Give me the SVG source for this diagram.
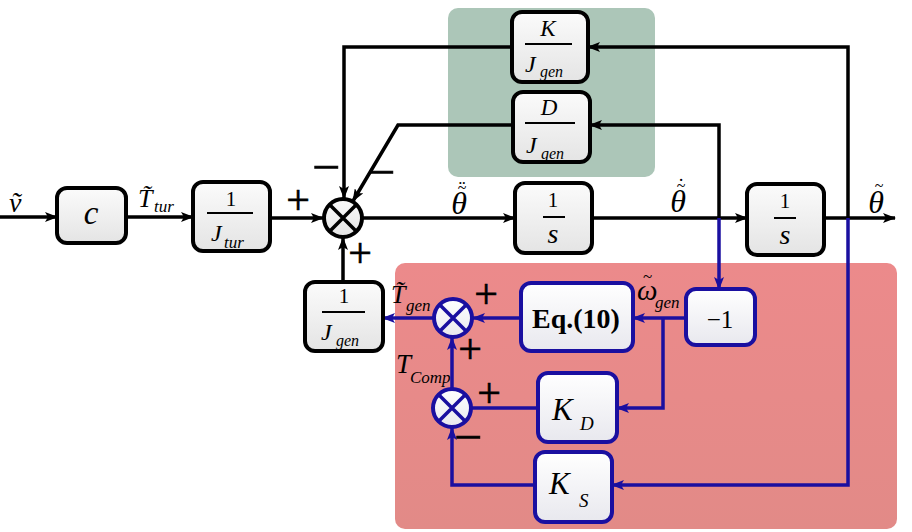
<svg xmlns="http://www.w3.org/2000/svg" width="912" height="532" viewBox="0 0 912 532">
<style>
.blk{fill:url(#gb);stroke:#000;stroke-width:4}
.bblk{fill:url(#gw);stroke:#1a0fa0;stroke-width:4}
.w{stroke:#000;stroke-width:3.5;fill:none}
.bw{stroke:#1a0fa0;stroke-width:3.5;fill:none}
.fl{stroke:#000;stroke-width:2}
.t{font-family:"Liberation Serif","Times New Roman",serif;fill:#000}
.i{font-style:italic}
.b{font-weight:bold}
.m{text-anchor:middle}
.pm{font-family:"Liberation Serif","Times New Roman",serif;fill:#000;stroke:#000;stroke-width:0.6;text-anchor:middle}
</style>
<defs>
<linearGradient id="gb" x1="0" y1="0" x2="0" y2="1"><stop offset="0" stop-color="#fbfbfb"/><stop offset="1" stop-color="#e4e4e4"/></linearGradient>
<linearGradient id="gw" x1="0" y1="0" x2="0" y2="1"><stop offset="0" stop-color="#ffffff"/><stop offset="1" stop-color="#e8e8ee"/></linearGradient>
<linearGradient id="gr" x1="0" y1="0" x2="0" y2="1"><stop offset="0" stop-color="#ec8a8b"/><stop offset="1" stop-color="#e28a87"/></linearGradient>
<marker id="ak" markerWidth="13" markerHeight="10" refX="12" refY="5" orient="auto" markerUnits="userSpaceOnUse"><path d="M0,0 L13,5 L0,10 L3,5 z" fill="#000"/></marker>
<marker id="ab" markerWidth="13" markerHeight="10" refX="12" refY="5" orient="auto" markerUnits="userSpaceOnUse"><path d="M0,0 L13,5 L0,10 L3,5 z" fill="#1a0fa0"/></marker>
</defs>
<rect width="912" height="532" fill="#fff"/>
<g id="regions">
<rect x="448" y="8" width="207" height="169" rx="10" fill="#acc6b8"/>
<rect x="395" y="263" width="502" height="266" rx="10" fill="url(#gr)"/>
</g>
<g id="connectors">
<path class="w" d="M0,217 H57" marker-end="url(#ak)"/>
<path class="w" d="M126,217 H193" marker-end="url(#ak)"/>
<path class="w" d="M270,218 H323" marker-end="url(#ak)"/>
<path class="w" d="M363,218 H515" marker-end="url(#ak)"/>
<path class="w" d="M592,218 H747" marker-end="url(#ak)"/>
<path class="w" d="M824,218 H895" marker-end="url(#ak)"/>
<path class="w" d="M512,47 H344 V198" marker-end="url(#ak)"/>
<path class="w" d="M513,125 H398 L353,201" marker-end="url(#ak)"/>
<path class="w" d="M719,218 V125 H590" marker-end="url(#ak)"/>
<path class="w" d="M848,218 V47 H588" marker-end="url(#ak)"/>
<path class="w" d="M343,282 V238" marker-end="url(#ak)"/>
<path class="bw" d="M719,218 V289" marker-end="url(#ab)"/>
<path class="bw" d="M848,218 V485 H612" marker-end="url(#ab)"/>
<path class="bw" d="M686,318 H633" marker-end="url(#ab)"/>
<path class="bw" d="M521,318 H473" marker-end="url(#ab)"/>
<path class="bw" d="M433,318 H383" marker-end="url(#ab)"/>
<path class="bw" d="M663,318 V408 H617" marker-end="url(#ab)"/>
<path class="bw" d="M538,408 H472"/>
<path class="bw" d="M535,485 H452 V428" marker-end="url(#ab)"/>
<path class="bw" d="M452,388 V338" marker-end="url(#ab)"/>
</g>
<g id="c">
<rect class="blk" x="57" y="188" width="69" height="55" rx="10"/>
<text class="t i m" x="91" y="224" font-size="33">c</text>
</g>
<g id="jtur">
<rect class="blk" x="193" y="182" width="77" height="69" rx="10"/>
<text class="t m" x="231" y="206" font-size="21">1</text>
<line class="fl" x1="207" y1="213" x2="253" y2="213"/>
<text class="t i"><tspan x="211" y="241" font-size="24">J</tspan><tspan x="224" y="248" font-size="17">tur</tspan></text>
</g>
<g id="kjgen">
<rect class="blk" x="512" y="12" width="76" height="70" rx="10"/>
<text class="t i m" x="548" y="36" font-size="23">K</text>
<line class="fl" x1="525" y1="44" x2="572" y2="44"/>
<text class="t i"><tspan x="525" y="72" font-size="24">J</tspan><tspan x="540" y="77" font-size="16">gen</tspan></text>
</g>
<g id="djgen">
<rect class="blk" x="513" y="92" width="77" height="70" rx="10"/>
<text class="t i m" x="549" y="115" font-size="23">D</text>
<line class="fl" x1="525" y1="123" x2="575" y2="123"/>
<text class="t i"><tspan x="526" y="153" font-size="24">J</tspan><tspan x="541" y="159" font-size="16">gen</tspan></text>
</g>
<g id="sum1">
<circle cx="343" cy="218" r="19" fill="url(#gb)" stroke="#000" stroke-width="4"/>
<path class="w" d="M329.5,204.5 L356.5,231.5 M356.5,204.5 L329.5,231.5"/>
</g>
<g id="int1">
<rect class="blk" x="515" y="183" width="77" height="70" rx="10"/>
<text class="t m" x="553" y="207" font-size="21">1</text>
<line class="fl" x1="543" y1="217" x2="565" y2="217"/>
<text class="t i m" x="553" y="243" font-size="28">s</text>
</g>
<g id="int2">
<rect class="blk" x="747" y="184" width="77" height="71" rx="10"/>
<text class="t m" x="785" y="208" font-size="21">1</text>
<line class="fl" x1="774" y1="218" x2="796" y2="218"/>
<text class="t i m" x="785" y="244" font-size="28">s</text>
</g>
<g id="jgen">
<rect class="blk" x="305" y="282" width="78" height="69" rx="10"/>
<text class="t m" x="344" y="303" font-size="21">1</text>
<line class="fl" x1="322" y1="312" x2="365" y2="312"/>
<text class="t i"><tspan x="321" y="340" font-size="24">J</tspan><tspan x="336" y="346" font-size="16">gen</tspan></text>
</g>
<g id="sum2">
<circle cx="453" cy="318" r="19" fill="url(#gw)" stroke="#1a0fa0" stroke-width="4"/>
<path class="bw" d="M439.5,304.5 L466.5,331.5 M466.5,304.5 L439.5,331.5"/>
</g>
<g id="sum3">
<circle cx="452" cy="408" r="19" fill="url(#gw)" stroke="#1a0fa0" stroke-width="4"/>
<path class="bw" d="M438.5,394.5 L465.5,421.5 M465.5,394.5 L438.5,421.5"/>
</g>
<g id="eq10">
<rect class="bblk" x="521" y="283" width="112" height="68" rx="10"/>
<text class="t b m" x="576" y="328" font-size="28">Eq.(10)</text>
</g>
<g id="neg1">
<rect class="bblk" x="686" y="289" width="69" height="56" rx="10"/>
<text class="t m" x="720" y="328" font-size="25">−1</text>
</g>
<g id="kd">
<rect class="bblk" x="538" y="373" width="79" height="69" rx="10"/>
<text class="t i"><tspan x="552" y="420" font-size="31">K</tspan><tspan x="580" y="430" font-size="19">D</tspan></text>
</g>
<g id="ks">
<rect class="bblk" x="535" y="452" width="77" height="70" rx="10"/>
<text class="t i"><tspan x="549" y="494" font-size="31">K</tspan><tspan x="579" y="507" font-size="19">S</tspan></text>
</g>
<g id="labels">
<text class="t i" x="9" y="212" font-size="28">ṽ</text>
<text class="t i"><tspan x="138" y="207" font-size="26">T̃</tspan><tspan x="154" y="212" font-size="17">tur</tspan></text>
<text class="t m"><tspan class="i" x="459" y="214" font-size="32">θ</tspan><tspan x="462" y="193" font-size="16">~</tspan><tspan x="462" y="195" font-size="20">¨</tspan></text>
<text class="t m"><tspan class="i" x="678" y="212" font-size="32">θ</tspan><tspan x="681" y="191" font-size="16">~</tspan><tspan x="681" y="193" font-size="20">˙</tspan></text>
<text class="t m"><tspan class="i" x="876" y="213" font-size="32">θ</tspan><tspan x="879" y="191" font-size="16">~</tspan></text>
<text class="t i"><tspan x="391" y="303" font-size="26">T̃</tspan><tspan x="406" y="311" font-size="17">gen</tspan></text>
<text class="t i"><tspan x="396" y="373" font-size="27">T</tspan><tspan x="410" y="383" font-size="17">Comp</tspan></text>
<text class="t"><tspan class="i" x="637" y="300" font-size="29">ω</tspan><tspan x="643" y="282" font-size="17">~</tspan><tspan class="i" x="655" y="308" font-size="17">gen</tspan></text>
<text class="pm" x="298" y="214" font-size="42">+</text>
<text class="pm" x="360" y="267" font-size="42">+</text>
<text class="pm" x="486" y="308" font-size="42">+</text>
<text class="pm" x="470" y="363" font-size="42">+</text>
<text class="pm" x="489" y="407" font-size="42">+</text>
<text class="pm" x="326" y="184" font-size="50">−</text>
<text class="pm" x="381" y="189" font-size="50">−</text>
<text class="pm" x="468" y="454" font-size="50">−</text>
</g>
</svg>
